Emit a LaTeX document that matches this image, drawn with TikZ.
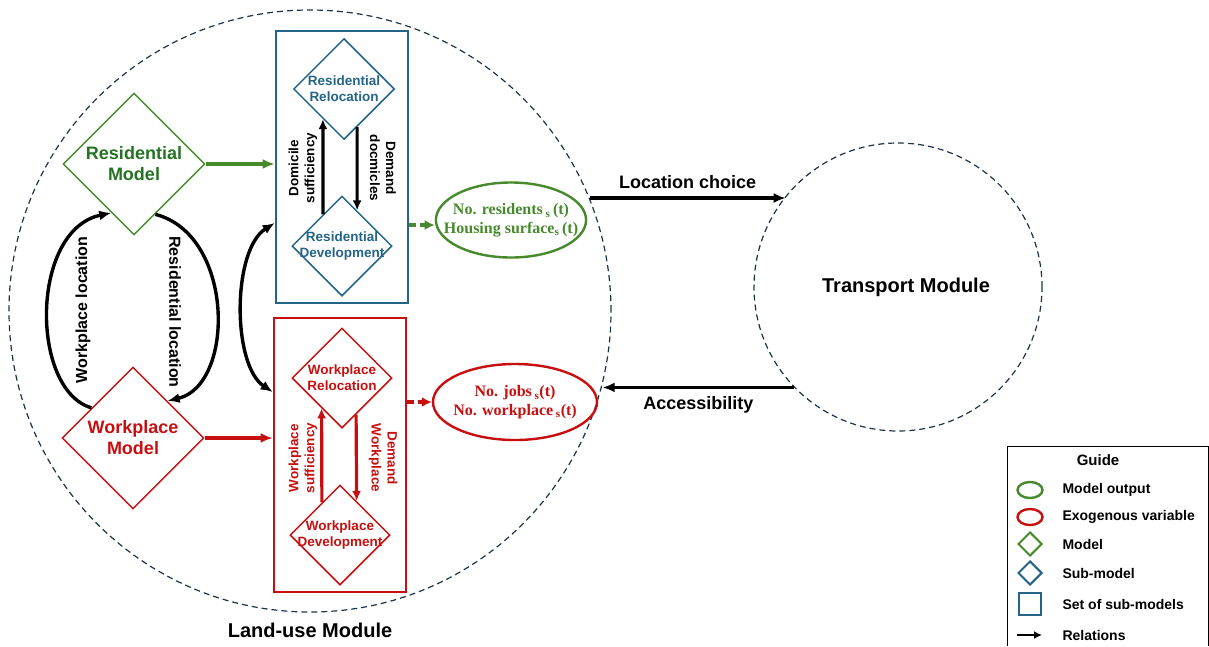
\documentclass[tikz,border=0pt]{standalone}
\usepackage{fontspec}
\setmainfont{Liberation Sans}
\newfontfamily\outfont{Liberation Serif}
\usetikzlibrary{arrows.meta,positioning,shapes.geometric,calc}

\definecolor{resgreen}{RGB}{70,138,45}
\definecolor{restext}{RGB}{35,115,35}
\definecolor{subblue}{RGB}{35,100,135}
\definecolor{wpred}{RGB}{200,15,15}
\definecolor{moddash}{RGB}{30,50,70}

\begin{document}
\begin{tikzpicture}[x=1pt,y=-1pt,
  model/.style={diamond,draw=resgreen,line width=1.4pt,minimum size=142pt,
    inner sep=-12pt,align=center,font=\fontsize{18}{21}\selectfont\bfseries},
  submodel/.style={diamond,draw=subblue,line width=1.5pt,minimum size=101pt,
    inner sep=-12pt,align=center,text=subblue,
    font=\fontsize{13.5}{16}\selectfont\bfseries},
  setbox/.style={draw=subblue,line width=2.6pt,minimum width=132pt,
    minimum height=272pt},
  output/.style={ellipse,draw=resgreen,line width=2.4pt,align=center,
    inner ysep=0pt,font=\outfont\fontsize{16}{18.5}\selectfont\bfseries},
  module/.style={circle,draw=moddash,dash pattern=on 6pt off 4pt,
    line width=1.2pt},
  rel/.style={line width=3.4pt,-{Latex[length=12pt,width=10pt]}},
  subrel/.style={line width=3.2pt,-{Latex[length=10pt,width=9pt]}},
  vlabel/.style={align=center,font=\fontsize{13.5}{16}\selectfont\bfseries},
  keytext/.style={anchor=west,font=\fontsize{14}{17}\selectfont\bfseries},
  bigtext/.style={font=\fontsize{20}{24}\selectfont\bfseries}]

  \useasboundingbox (0,0) rectangle (1209,646);

  % modules
  \node[module,minimum size=602pt] (landuse) at (310,311) {};
  \node[bigtext] (landlabel) at (310,630) {Land-use Module};
  \node[module,minimum size=288pt] (transport) at (898,287) {};
  \node[bigtext] (translabel) at (906,287) {Transport Module};

  % models
  \node[model,text=restext] (resmodel) at (134,164) {Residential\\Model};
  \node[model,draw=wpred,text=wpred] (wpmodel) at (133,438) {Workplace\\Model};

  % sets of sub-models
  \node[setbox] (resbox) at (342,167) {};
  \node[setbox,draw=wpred,minimum height=274pt] (wpbox) at (340,455) {};

  \node[submodel] (resreloc) at (344,89) {Residential\\Relocation};
  \node[submodel,minimum size=100pt] (resdev) at (342,246) {Residential\\Development};
  \node[submodel,draw=wpred,text=wpred,minimum size=100pt] (wpreloc) at (342,378)
    {Workplace\\Relocation};
  \node[submodel,draw=wpred,text=wpred,minimum size=100pt] (wpdev) at (340,535)
    {Workplace\\Development};

  % outputs
  \node[output,text=resgreen,inner xsep=-14pt,minimum width=148pt,
    minimum height=75pt] (resout) at (511,220)
    {No. residents\,\textsubscript{s}\,(t)\\Housing surface\textsubscript{s}\,(t)};
  \node[output,draw=wpred,text=wpred,inner xsep=-5pt,minimum width=164pt,
    minimum height=76pt] (wpout) at (515,402)
    {No. jobs\,\textsubscript{s}(t)\\No. workplace\,\textsubscript{s}(t)};

  % relations between models
  \draw[rel] (wpmodel.144) .. controls (30,390) and (30,230) .. (resmodel.245);
  \draw[rel] (resmodel.293) .. controls (235,235) and (235,385) .. (wpmodel.47);
  \node[vlabel,rotate=90,font=\fontsize{16}{19}\selectfont\bfseries] (wplocation)
    at (83,310) {Workplace location};
  \node[vlabel,rotate=-90,font=\fontsize{16}{19}\selectfont\bfseries] (reslocation)
    at (175,312) {Residential location};

  \draw[rel,{Latex[length=12pt,width=10pt]}-{Latex[length=12pt,width=10pt]}]
    ([yshift=-56pt]resbox.west) .. controls (232,250) and (232,365) ..
    ([yshift=63pt]wpbox.west);

  \draw[rel,draw=resgreen] (resmodel.east) -- (resmodel.east -| resbox.west);
  \draw[rel,draw=wpred] (wpmodel.east) -- (wpmodel.east -| wpbox.west);

  % inside the sets
  \draw[subrel] (resdev.121.5) -- (resreloc.235);
  \draw[subrel] (resreloc.289) -- (resdev.67);
  \node[vlabel,rotate=90] (domicile) at (303,168) {Domicile\\sufficiency};
  \node[vlabel,rotate=-90] (demanddom) at (383,168) {Demand\\docmicles};

  \draw[subrel,draw=wpred] (wpdev.119.4) -- (wpreloc.236.3);
  \draw[subrel,draw=wpred] (wpreloc.291.3) -- (wpdev.64.8);
  \node[vlabel,rotate=90,text=wpred] (wpsuff) at (303,458) {Workplace\\sufficiency};
  \node[vlabel,rotate=-90,text=wpred] (demandwp) at (383,458) {Demand\\Workplace};

  % to the outputs
  \draw[line width=3.2pt,draw=resgreen,dash pattern=on 7pt off 4pt,
    -{Latex[length=10pt,width=10pt]}] ([yshift=-5pt]resbox.east |- resout.west)
    -- ([yshift=-5pt]resout.west);
  \draw[line width=3.2pt,draw=wpred,dash pattern=on 7pt off 4pt,
    -{Latex[length=10pt,width=10pt]}] (wpbox.east |- wpout.west) -- (wpout.west);

  % between the modules
  \draw[rel] (landuse.22.3) -- node[midway,above=4pt,
    font=\fontsize{18}{21}\selectfont\bfseries] (locchoice) {Location choice}
    (transport.141.3 |- landuse.22.3);
  \draw[rel] (transport.224.5) -- node[midway,below=4pt,
    font=\fontsize{18}{21}\selectfont\bfseries] (access) {Accessibility}
    (landuse.-14.8 |- transport.224.5);

  % guide
  \draw[line width=1pt] (1007,646) -- (1007,446) -- (1208,446) -- (1208,646);
  \node[font=\fontsize{15}{18}\selectfont\bfseries] (guidetitle) at (1098,460) {Guide};
  \node[ellipse,draw=resgreen,line width=2.4pt,minimum width=25pt,
    minimum height=16pt] (keyout) at (1030,490) {};
  \node[ellipse,draw=wpred,line width=2.4pt,minimum width=25pt,
    minimum height=16pt] (keyexo) at (1030,517) {};
  \node[diamond,draw=resgreen,line width=2pt,minimum size=24pt,
    inner sep=0pt] (keymodel) at (1030,544) {};
  \node[diamond,draw=subblue,line width=2pt,minimum size=24pt,
    inner sep=0pt] (keysub) at (1030,573) {};
  \node[draw=subblue,line width=2.6pt,minimum size=22pt] (keyset) at (1030,604) {};
  \coordinate (keyrelA) at (1017,635);
  \coordinate (keyrelB) at (1042,635);
  \draw[line width=2.4pt,-{Latex[length=8pt,width=8pt]}] (keyrelA) -- (keyrelB);

  \foreach \txt/\yy [count=\i] in {Model output/490,Exogenous variable/517,
    Model/544,Sub-model/573,Set of sub-models/604,Relations/635}
    \node[keytext] (keytxt\i) at (1059,\yy) {\txt};

\end{tikzpicture}
\end{document}
